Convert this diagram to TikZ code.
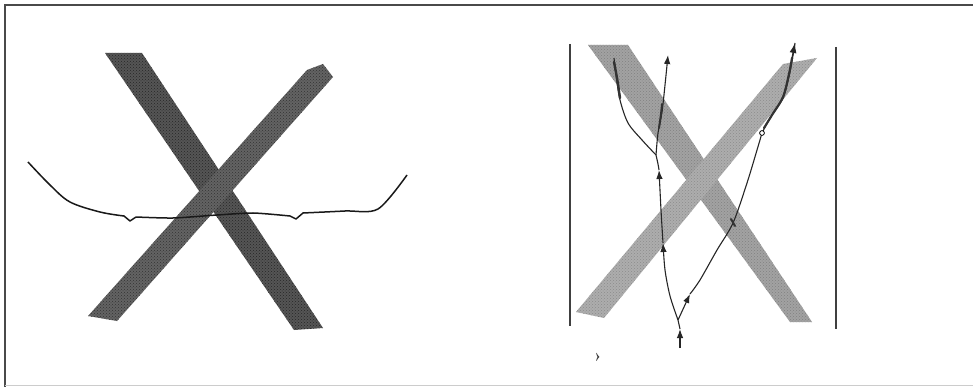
\documentclass[tikz,border=0pt]{standalone}
\usetikzlibrary{arrows.meta,patterns}
\definecolor{barDark}{HTML}{555555}
\definecolor{barDarkB}{HTML}{636363}
\definecolor{barLight}{HTML}{A2A2A2}
\definecolor{barLightB}{HTML}{ADADAD}
\definecolor{frameC}{HTML}{4A4A4A}
\tikzset{
  grain/.style={pattern=crosshatch dots, pattern color=#1},
  wire/.style={line width=1.1pt, black!85},
  wirethick/.style={line width=2.4pt, black!80, line cap=round},
  tip/.style={wire, -{Latex[length=9pt,width=6.5pt]}},
  rail/.style={line width=1.3pt, black!75},
  wave/.style={line width=1.5pt, black!90, line join=round},
}
\begin{document}
\begin{tikzpicture}[x=1pt,y=-1pt]
\useasboundingbox (0,0) rectangle (973,387);
\fill[white] (0,0) rectangle (973,387);
% frame
\draw[line width=2pt, frameC] (5,387) -- (5,5) -- (973,5);
\draw[line width=0.8pt, black!20] (5,385) -- (973,385);

% ---------- left X ----------
\fill[barDark] (105,53) -- (142,53) -- (323,328) -- (294,330) -- cycle;
\fill[grain=black!85] (105,53) -- (142,53) -- (323,328) -- (294,330) -- cycle;
\fill[barDarkB] (307,70) -- (323,64) -- (333,77) -- (117,321) -- (88,316) -- cycle;
\fill[grain=black!80] (307,70) -- (323,64) -- (333,77) -- (117,321) -- (88,316) -- cycle;

% wavy line
\draw[wave] plot[smooth, tension=0.55] coordinates {
  (28,162) (50,185) (70,202) (100,212) (124,216)}
  -- (130,221) -- (136,217)
  plot[smooth, tension=0.4] coordinates {(136,217)
  (173,218) (217,215) (253,213) (290,216)}
  -- (296,219) -- (303,213)
  plot[smooth, tension=0.5] coordinates {(303,213)
  (345,211) (378,209) (407,175)};

% ---------- right panel ----------
\coordinate (rl1) at (570,44);
\coordinate (rl2) at (570,326);
\coordinate (rr1) at (836,47);
\coordinate (rr2) at (836,329);
\draw[rail] (rl1) -- (rl2);
\draw[rail] (rr1) -- (rr2);

\fill[barLight] (588,45) -- (628,45) -- (812,322) -- (790,322) -- cycle;
\fill[grain=black!50] (588,45) -- (628,45) -- (812,322) -- (790,322) -- cycle;
\fill[barLightB] (783,64) -- (817,58) -- (604,318) -- (576,312) -- cycle;
\fill[grain=black!45] (783,64) -- (817,58) -- (604,318) -- (576,312) -- cycle;

% named points of the wires
\coordinate (b0) at (680,348);
\coordinate (t0) at (680,329);
\coordinate (J)  at (678,320);
\coordinate (t1) at (663,243);
\coordinate (t2) at (659,170);
\coordinate (K)  at (656,155);
\coordinate (t3) at (668,55);
\coordinate (e1) at (614,58);
\coordinate (t4) at (690,294);
\coordinate (c1) at (762,133);
\coordinate (t5) at (795,43);

% left strand
\draw[tip] (b0) -- (t0);
\draw[wire] (t0) -- (J);
\draw[tip] plot[smooth] coordinates {(J) (670,296) (665,270) (t1)};
\draw[tip] plot[smooth] coordinates {(t1) (661,210) (t2)};
\draw[wire] plot[smooth] coordinates {(t2) (658,164) (K)};
\draw[tip] plot[smooth] coordinates {(K) (658,133) (662,112) (665,85) (t3)};
\draw[wire] plot[smooth] coordinates {(K) (642,140) (628,123) (620,100) (616,75) (e1)};
\draw[wirethick] plot[smooth] coordinates {(620,98) (617,78) (614,62)};
\draw[wirethick, line width=2pt] plot[smooth] coordinates {(659,128) (661,114) (662,104)};

% right strand
\draw[tip] (J) -- (t4);
\draw[wire] plot[smooth] coordinates {(t4) (700,280) (717,250) (733,223) (747,183) (757,150) (c1)};
\draw[wire] plot[smooth] coordinates {(c1) (770,118) (783,98) (790,72) (t5)};
\draw[wirethick, line width=2.2pt] plot[smooth] coordinates {(764,128) (772,115) (783,97) (789,74) (792,58)};
\draw[-{Latex[length=10pt,width=7pt]}, line width=1.2pt, black!85] (792,58) -- (t5);
\draw[wirethick, line width=2pt] (731,219) -- (735,226);
\draw[fill=white, line width=0.8pt] (c1) circle (2.4);

\node[font=\LARGE\bfseries, inner sep=0pt, black!80] (mk) at (598,357) {›};
\end{tikzpicture}
\end{document}
